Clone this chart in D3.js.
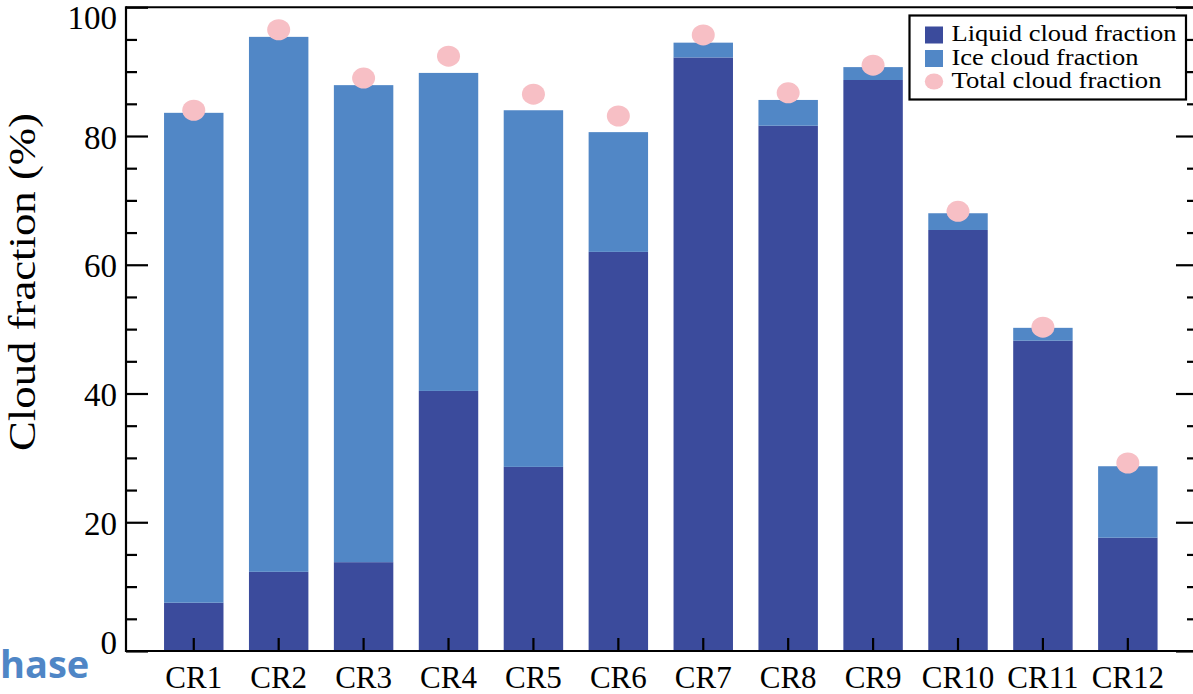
<!DOCTYPE html>
<html>
<head>
<meta charset="utf-8">
<script src="https://cdn.jsdelivr.net/npm/d3@7"></script>
<style>
  html, body { margin: 0; padding: 0; background: #fff; }
  svg { display: block; }
</style>
</head>
<body>
<svg id="chart" width="1193" height="694"></svg>
<script>
// Cloud regimes and their cloud fractions (%)
const categories = ["CR1","CR2","CR3","CR4","CR5","CR6","CR7","CR8","CR9","CR10","CR11","CR12"];
const liquidFraction = [7.5, 12.3, 13.8, 40.4, 28.6, 62.0, 92.2, 81.6, 88.7, 65.4, 48.2, 17.6];
const iceFraction    = [76.1, 83.1, 74.1, 49.4, 55.4, 18.6, 2.3, 4.0, 2.0, 2.6, 2.0, 11.1];
const totalFraction  = [84.0, 96.5, 89.0, 92.4, 86.5, 83.1, 95.7, 86.7, 91.0, 68.3, 50.3, 29.2];
const yTickValues = [0, 20, 40, 60, 80, 100];
const seriesNames = ["Liquid cloud fraction", "Ice cloud fraction", "Total cloud fraction"];

const colors = { liquid: "#3b4b9c", ice: "#5187c6", total: "#f7bfc5" };
const serif = "'Liberation Serif', 'Times New Roman', serif";

const svg = d3.select("#chart");
const plotLeft = 126, plotRight = 1198, plotTop = 7.25, plotBottom = 651;

const x = d3.scaleBand().domain(categories).range([plotLeft, 1195.6])
  .paddingInner(0.3).paddingOuter(0.448);
const y = d3.scaleLinear().domain([0, 100]).range([plotBottom, plotTop]);

const rows = categories.map((c, i) => ({
  cat: c, liquid: liquidFraction[i], ice: iceFraction[i], total: totalFraction[i]
}));

// Stacked bars: liquid at the bottom, ice above
const bars = svg.append("g");
bars.selectAll("rect.liquid").data(rows).join("rect")
  .attr("class", "liquid")
  .attr("x", d => x(d.cat)).attr("width", x.bandwidth())
  .attr("y", d => y(d.liquid)).attr("height", d => y(0) - y(d.liquid))
  .attr("fill", colors.liquid);
bars.selectAll("rect.ice").data(rows).join("rect")
  .attr("class", "ice")
  .attr("x", d => x(d.cat)).attr("width", x.bandwidth())
  .attr("y", d => y(d.liquid + d.ice)).attr("height", d => y(d.liquid) - y(d.liquid + d.ice))
  .attr("fill", colors.ice);

// Total cloud fraction markers
svg.append("g").selectAll("ellipse").data(rows).join("ellipse")
  .attr("cx", d => x(d.cat) + x.bandwidth() / 2)
  .attr("cy", d => y(d.total))
  .attr("rx", 11.5).attr("ry", 10.5)
  .attr("fill", colors.total);

// Frame
const frame = svg.append("g").attr("stroke", "#000").attr("stroke-width", 2.2).attr("fill", "none");
frame.append("line").attr("x1", plotLeft).attr("x2", plotLeft).attr("y1", plotTop - 1).attr("y2", plotBottom + 1);
frame.append("line").attr("x1", plotLeft).attr("x2", plotRight).attr("y1", plotTop).attr("y2", plotTop);
frame.append("line").attr("x1", plotLeft).attr("x2", plotRight).attr("y1", plotBottom).attr("y2", plotBottom);
frame.append("line").attr("x1", plotRight).attr("x2", plotRight).attr("y1", plotTop).attr("y2", plotBottom);

// Y axis ticks (inward, both sides)
const minor = d3.range(0, 101, 5).filter(v => v % 20 !== 0);
const leftAxisMajor = d3.axisRight(y).tickValues(yTickValues).tickSize(22).tickFormat("");
const leftAxisMinor = d3.axisRight(y).tickValues(minor).tickSize(11).tickFormat("");
const rightAxisMajor = d3.axisLeft(y).tickValues(yTickValues).tickSize(22).tickFormat("");
const rightAxisMinor = d3.axisLeft(y).tickValues(minor).tickSize(11).tickFormat("");
[[leftAxisMajor, plotLeft], [leftAxisMinor, plotLeft], [rightAxisMajor, plotRight], [rightAxisMinor, plotRight]].forEach(([ax, pos]) => {
  const g = svg.append("g").attr("transform", `translate(${pos},0)`).call(ax);
  g.select(".domain").remove();
  g.selectAll("line").attr("stroke", "#000").attr("stroke-width", 2.2);
});

// Y tick labels
svg.append("g").selectAll("text").data(yTickValues).join("text")
  .attr("x", 117)
  .attr("y", d => y(d) + (d === 0 ? -9 : d === 100 ? 10 : 1))
  .attr("dy", "0.35em")
  .attr("text-anchor", "end")
  .attr("font-family", serif).attr("font-size", 33)
  .text(d => d);

// X axis ticks (inward) and labels
const xAxis = d3.axisTop(x).tickSize(13).tickFormat("").tickSizeOuter(0);
const gx = svg.append("g").attr("transform", `translate(0,${plotBottom})`).call(xAxis);
gx.select(".domain").remove();
gx.selectAll("line").attr("stroke", "#000").attr("stroke-width", 2.2);

svg.append("g").selectAll("text").data(categories).join("text")
  .attr("x", d => x(d) + x.bandwidth() / 2)
  .attr("y", 688)
  .attr("text-anchor", "middle")
  .attr("font-family", serif).attr("font-size", 31)
  .text(d => d);

// Y axis title
svg.append("text")
  .attr("transform", "translate(35,282) rotate(-90)")
  .attr("text-anchor", "middle")
  .attr("font-family", serif).attr("font-size", 37)
  .attr("textLength", 338).attr("lengthAdjust", "spacingAndGlyphs")
  .text("Cloud fraction (%)");

// Legend
const legend = svg.append("g");
legend.append("rect").attr("x", 909.5).attr("y", 15.5).attr("width", 276.5).attr("height", 84)
  .attr("fill", "#fff").attr("stroke", "#000").attr("stroke-width", 2.2);
const legendRows = [
  { name: seriesNames[0], color: colors.liquid, shape: "rect" },
  { name: seriesNames[1], color: colors.ice, shape: "rect" },
  { name: seriesNames[2], color: colors.total, shape: "circle" }
];
legendRows.forEach((r, i) => {
  const cy = 35 + i * 23.5;
  if (r.shape === "rect") {
    legend.append("rect").attr("x", 925).attr("y", cy - 8.5).attr("width", 18).attr("height", 17).attr("fill", r.color);
  } else {
    legend.append("ellipse").attr("cx", 934).attr("cy", cy - 0.5).attr("rx", 9.2).attr("ry", 8).attr("fill", r.color);
  }
  legend.append("text").attr("x", 951.5).attr("y", cy + 6)
    .attr("font-family", serif).attr("font-size", 24)
    .attr("textLength", [225, 187, 210][i]).attr("lengthAdjust", "spacingAndGlyphs")
    .text(r.name);
});

// Fragment of a heading at the lower left
svg.append("text")
  .attr("x", 0).attr("y", 678)
  .attr("font-family", "'Open Sans', sans-serif").attr("font-weight", "bold").attr("font-size", 38)
  .attr("fill", "#4f86c6")
  .text("hase");
</script>
</body>
</html>
